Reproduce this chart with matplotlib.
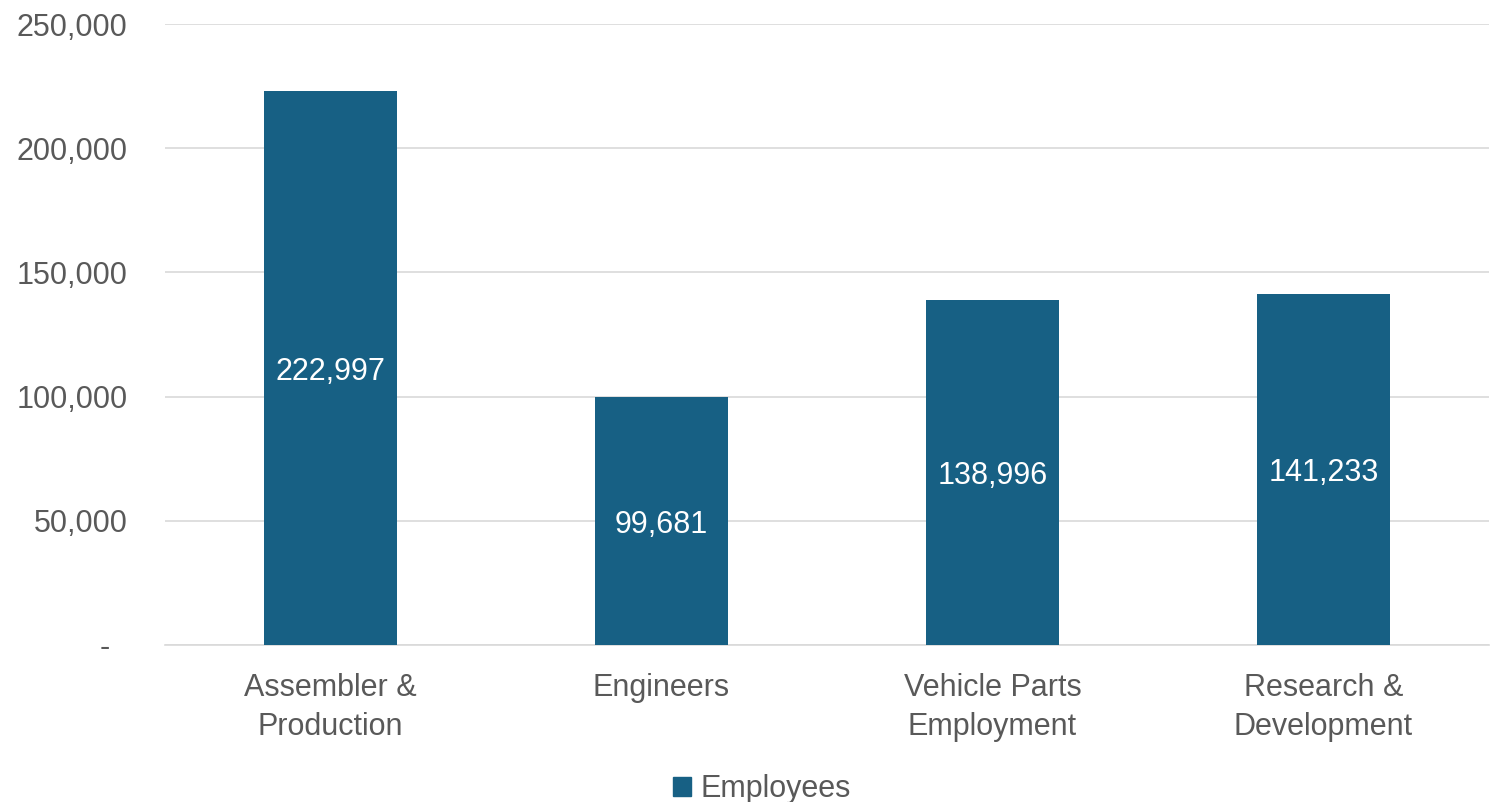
import matplotlib.pyplot as plt
from matplotlib.ticker import FuncFormatter
from matplotlib.patches import Patch

# Employment by category
categories = ["Assembler &\nProduction", "Engineers", "Vehicle Parts\nEmployment", "Research &\nDevelopment"]
employees = [222997, 99681, 138996, 141233]
y_ticks = [0, 50000, 100000, 150000, 200000, 250000]

bar_color = "#176084"
text_color = "#595959"

plt.rcParams['font.family'] = ['Liberation Sans', 'DejaVu Sans']

fig = plt.figure(figsize=(14.91, 8.02), dpi=100)
ax = fig.add_axes([0.1107, 0.1958, 0.8880, 0.7742])

x = range(len(categories))
bars = ax.bar(x, employees, width=0.4, color=bar_color, zorder=3)

# value labels in the middle of each bar
for b, v in zip(bars, employees):
    ax.text(b.get_x() + b.get_width() / 2, v / 2, f"{v:,}",
            ha="center", va="center_baseline", color="white", fontsize=22)

ax.set_xlim(-0.5, len(categories) - 0.5)
ax.set_ylim(0, 250000)
ax.set_yticks(y_ticks)
# zero shown as a dash like accounting format
ax.yaxis.set_major_formatter(FuncFormatter(lambda v, p: "-  " if v == 0 else f"{int(v):,}"))
ax.set_xticks(list(x))
ax.set_xticklabels(categories, linespacing=1.4)

ax.grid(axis="y", color="#d9d9d9", linewidth=1.2, zorder=0)
for s in ["top", "right", "left"]:
    ax.spines[s].set_visible(False)
ax.spines["bottom"].set_color("#d9d9d9")
ax.spines["bottom"].set_linewidth(1.2)
ax.tick_params(axis="both", length=0, labelsize=22, labelcolor=text_color)
ax.tick_params(axis="x", pad=20)
ax.tick_params(axis="y", pad=27)

fig.legend(handles=[Patch(color=bar_color, label="Employees")],
           loc="center", bbox_to_anchor=(0.511, 0.016), frameon=False,
           fontsize=22, labelcolor=text_color, handlelength=0.6,
           handleheight=0.6, handletextpad=0.3)

plt.savefig("out.png", dpi=100)
